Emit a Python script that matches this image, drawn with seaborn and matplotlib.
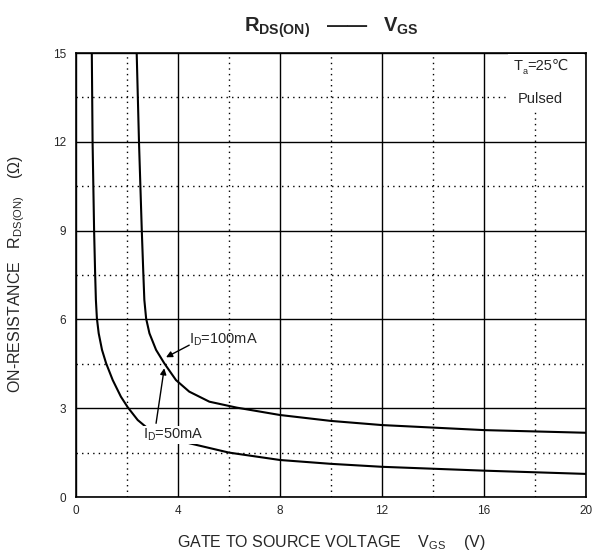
import matplotlib
matplotlib.use("Agg")
import matplotlib.pyplot as plt
from matplotlib.patches import Rectangle
from matplotlib.ticker import MultipleLocator
import seaborn as sns
import pandas as pd

# I_D = 50mA curve (Vgs in V, Rds(on) in ohm)
vgs_50 = [0.62, 0.65, 0.71, 0.75, 0.78, 0.82, 0.89, 1.02, 1.18, 1.44, 1.76, 2.03, 2.42, 2.81,
          3.1, 3.5, 4.0, 4.47, 6.0, 8.0, 10.0, 12.0, 16.0, 20.0]
rds_50 = [15.0, 12.0, 9.0, 7.56, 6.66, 6.03, 5.53, 4.97, 4.52, 3.95, 3.39, 3.03, 2.60, 2.32,
          2.2, 2.05, 1.93, 1.81, 1.5, 1.25, 1.12, 1.02, 0.89, 0.78]

# I_D = 100mA curve
vgs_100 = [2.38, 2.47, 2.58, 2.64, 2.68, 2.75, 2.88, 3.14, 3.46, 3.92, 4.44, 5.23, 6.3, 8.0,
           10.0, 12.0, 16.0, 20.0]
rds_100 = [15.0, 12.0, 9.0, 7.56, 6.66, 6.03, 5.53, 4.97, 4.52, 3.95, 3.56, 3.22, 3.02, 2.77,
           2.57, 2.43, 2.26, 2.17]

x_ticks = [0, 4, 8, 12, 16, 20]
y_ticks = [0, 3, 6, 9, 12, 15]

data = pd.concat([
    pd.DataFrame({"vgs": vgs_50, "rds": rds_50, "curve": "50mA"}),
    pd.DataFrame({"vgs": vgs_100, "rds": rds_100, "curve": "100mA"}),
])

sns.set_style("white")
plt.rcParams["font.family"] = ["Liberation Sans", "DejaVu Sans"]
plt.rcParams["mathtext.fontset"] = "custom"
plt.rcParams["mathtext.rm"] = "Liberation Sans"
plt.rcParams["mathtext.bf"] = "Liberation Sans:bold"

fig = plt.figure(figsize=(6.0, 5.59), dpi=100)
ax = fig.add_axes([76 / 600, 62 / 559, 510 / 600, 444 / 559])

sns.lineplot(x="vgs", y="rds", hue="curve", data=data, ax=ax, palette=["black", "black"],
             legend=False, estimator=None, sort=False, linewidth=1.5, zorder=3)

ax.set_xlim(0, 20)
ax.set_ylim(0, 15)
ax.set_xticks(x_ticks)
ax.set_yticks(y_ticks)
ax.xaxis.set_minor_locator(MultipleLocator(2))
ax.yaxis.set_minor_locator(MultipleLocator(1.5))
ax.grid(which="major", color="black", linewidth=1.0, linestyle="-")
ax.grid(which="minor", color="black", linewidth=1.0, linestyle=(0, (1, 3)))
ax.tick_params(which="both", length=0, labelsize=8.5)
ax.tick_params(axis="x", pad=6)
ax.tick_params(axis="y", pad=7)
for s in ax.spines.values():
    s.set_color("black")
    s.set_linewidth(1.2)
    s.set_zorder(6)

ax.set_xlabel(r"GATE TO SOURCE VOLTAGE    $\mathregular{V_{GS}}$    (V)", fontsize=11.5, labelpad=11)
ax.set_ylabel("")
fig.text(17 / 600, 1 - 274 / 559, r"ON-RESISTANCE   $\mathregular{R_{DS(ON)}}$    ($\Omega$)",
         rotation=90, ha="center", va="center", fontsize=11.5)

fig.text(331 / 600, 1 - 28 / 559, r"$\mathbf{R_{DS(ON)}}$   $\mathbf{——}$   $\mathbf{V_{GS}}$",
         ha="center", va="center", fontsize=14.5, fontweight="bold")

# condition box: T_a=25C / Pulsed (white background hides the grid behind it)
ax.add_patch(Rectangle((0.847, 0.866), 0.150, 0.131, transform=ax.transAxes,
                       facecolor="white", edgecolor="none", zorder=1))
ax.text(17.15, 14.56, "T", ha="left", va="center", fontsize=10.5, zorder=5)
ax.text(17.52, 14.36, "a", ha="left", va="center", fontsize=6.5, zorder=6)
ax.text(17.7, 14.56, "=25℃", ha="left", va="center", fontsize=10.5, zorder=5)
ax.text(18.2, 13.45, "Pulsed", ha="center", va="center", fontsize=10.5, zorder=5)

# curve labels
arrow = dict(arrowstyle="-|>", color="black", linewidth=1.0, mutation_scale=9, shrinkA=0, shrinkB=0)
ax.text(4.45, 5.18, r"$\mathregular{I_D}$=100mA", ha="left", va="baseline", fontsize=10.5, zorder=5)
ax.annotate("", xy=(3.53, 4.72), xytext=(4.44, 5.13), arrowprops=arrow, zorder=5)
ax.text(2.62, 1.96, r"$\mathregular{I_D}$=50mA", ha="left", va="baseline", fontsize=10.5,
        bbox=dict(facecolor="white", edgecolor="none", pad=0.5), zorder=5)
ax.annotate("", xy=(3.46, 4.35), xytext=(3.14, 2.49), arrowprops=arrow, zorder=5)

plt.savefig("out.png", dpi=100)
